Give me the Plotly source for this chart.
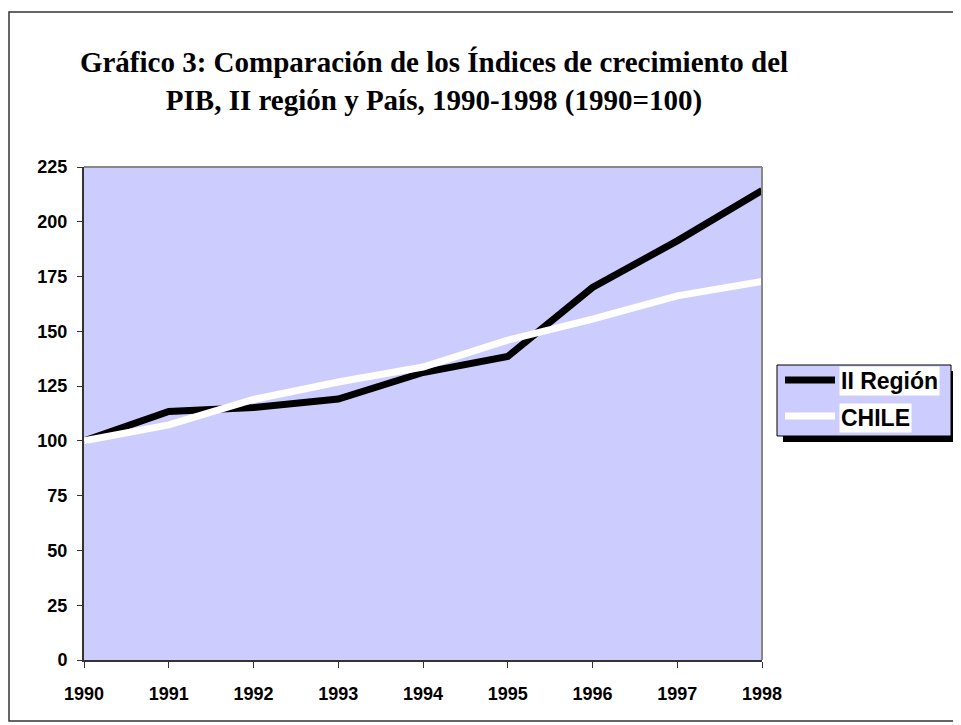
import plotly.graph_objects as go

years = [1990, 1991, 1992, 1993, 1994, 1995, 1996, 1997, 1998]
ii_region = [100, 113.4, 115.2, 119.1, 131.2, 138.5, 170.0, 191.3, 214.3]
chile = [100, 107.3, 118.9, 126.9, 133.7, 146.0, 155.6, 166.2, 172.8]
y_ticks = [0, 25, 50, 75, 100, 125, 150, 175, 200, 225]
series_names = ["II Región", "CHILE"]
title_text = ("Gráfico 3: Comparación de los Índices de crecimiento del<br>"
              "PIB, II región y País, 1990-1998 (1990=100)")

W, H = 961, 725
OFF = 8  # page body offset
L, R, T, B = 84, 762, 167, 660  # plot area in screen pixels


def px(x):
    return (x - L) / (R - L)


def py(y):
    return (B - y) / (B - T)


fig = go.Figure()
fig.add_trace(go.Scatter(x=years, y=ii_region, name=series_names[0], mode="lines",
                         line=dict(color="black", width=7), showlegend=False))
fig.add_trace(go.Scatter(x=years, y=chile, name=series_names[1], mode="lines",
                         line=dict(color="white", width=7), showlegend=False))

tickfont = dict(family="Liberation Sans, Arial, sans-serif", size=18, color="black")

fig.update_layout(
    width=W, height=H,
    margin=dict(l=L - OFF, r=W - (R - OFF), t=T - OFF, b=H - (B - OFF), pad=0),
    paper_bgcolor="white",
    plot_bgcolor="#CCCCFF",
    showlegend=False,
    title=dict(text="<b>" + title_text + "</b>", x=(434 - OFF) / W, xanchor="center",
               y=1 - 64 / H, yanchor="middle",
               font=dict(family="Liberation Serif, Times New Roman, serif", size=29,
                         color="black")),
    xaxis=dict(range=[1990, 1998], tickvals=years,
               ticktext=["<b>" + str(v) + "</b>" for v in years],
               showgrid=False, zeroline=False, showline=True, linecolor="#333333",
               linewidth=2, ticks="outside", ticklen=6, tickcolor="#333333",
               tickwidth=1, tickfont=tickfont, ticklabelstandoff=10, fixedrange=True),
    yaxis=dict(range=[0, 225], tickvals=y_ticks,
               ticktext=["<b>" + str(v) + "</b>" for v in y_ticks],
               showgrid=False, zeroline=False,
               showline=True, linecolor="#333333", linewidth=2, ticks="outside",
               ticklen=5, tickcolor="#333333", tickwidth=1, tickfont=tickfont,
               ticklabelstandoff=6, fixedrange=True),
)

shapes = []
# plot-area top/right gray border
shapes.append(dict(type="line", xref="paper", yref="paper", x0=0, x1=1, y0=1, y1=1,
                   line=dict(color="#888888", width=2)))
shapes.append(dict(type="line", xref="paper", yref="paper", x0=1, x1=1, y0=0, y1=1,
                   line=dict(color="#888888", width=2)))
# outer border
shapes.append(dict(type="rect", xref="paper", yref="paper", x0=px(9), x1=px(958),
                   y0=py(721), y1=py(12), line=dict(color="#333333", width=1.5),
                   fillcolor="rgba(0,0,0,0)", layer="below"))
# legend shadow
shapes.append(dict(type="rect", xref="paper", yref="paper", x0=px(783), x1=px(957),
                   y0=py(442), y1=py(371), line=dict(width=0), fillcolor="black"))
# legend box
shapes.append(dict(type="rect", xref="paper", yref="paper", x0=px(777), x1=px(951),
                   y0=py(436), y1=py(365), line=dict(color="black", width=1),
                   fillcolor="#CCCCFF"))
# legend samples
shapes.append(dict(type="line", xref="paper", yref="paper", x0=px(785), x1=px(835),
                   y0=py(380), y1=py(380), line=dict(color="black", width=7)))
shapes.append(dict(type="line", xref="paper", yref="paper", x0=px(785), x1=px(835),
                   y0=py(416), y1=py(416), line=dict(color="white", width=7)))
fig.update_layout(shapes=shapes)

legfont = dict(family="Liberation Sans, Arial, sans-serif", size=23, color="black")
fig.add_annotation(text="<b>" + series_names[0] + "</b>", xref="paper", yref="paper",
                   x=px(839), y=py(381), xanchor="left", yanchor="middle",
                   showarrow=False, font=legfont, bgcolor="white", borderpad=1)
fig.add_annotation(text="<b>" + series_names[1] + "</b>", xref="paper", yref="paper",
                   x=px(839), y=py(418), xanchor="left", yanchor="middle",
                   showarrow=False, font=legfont, bgcolor="white", borderpad=1)

fig.write_html("out.html")
